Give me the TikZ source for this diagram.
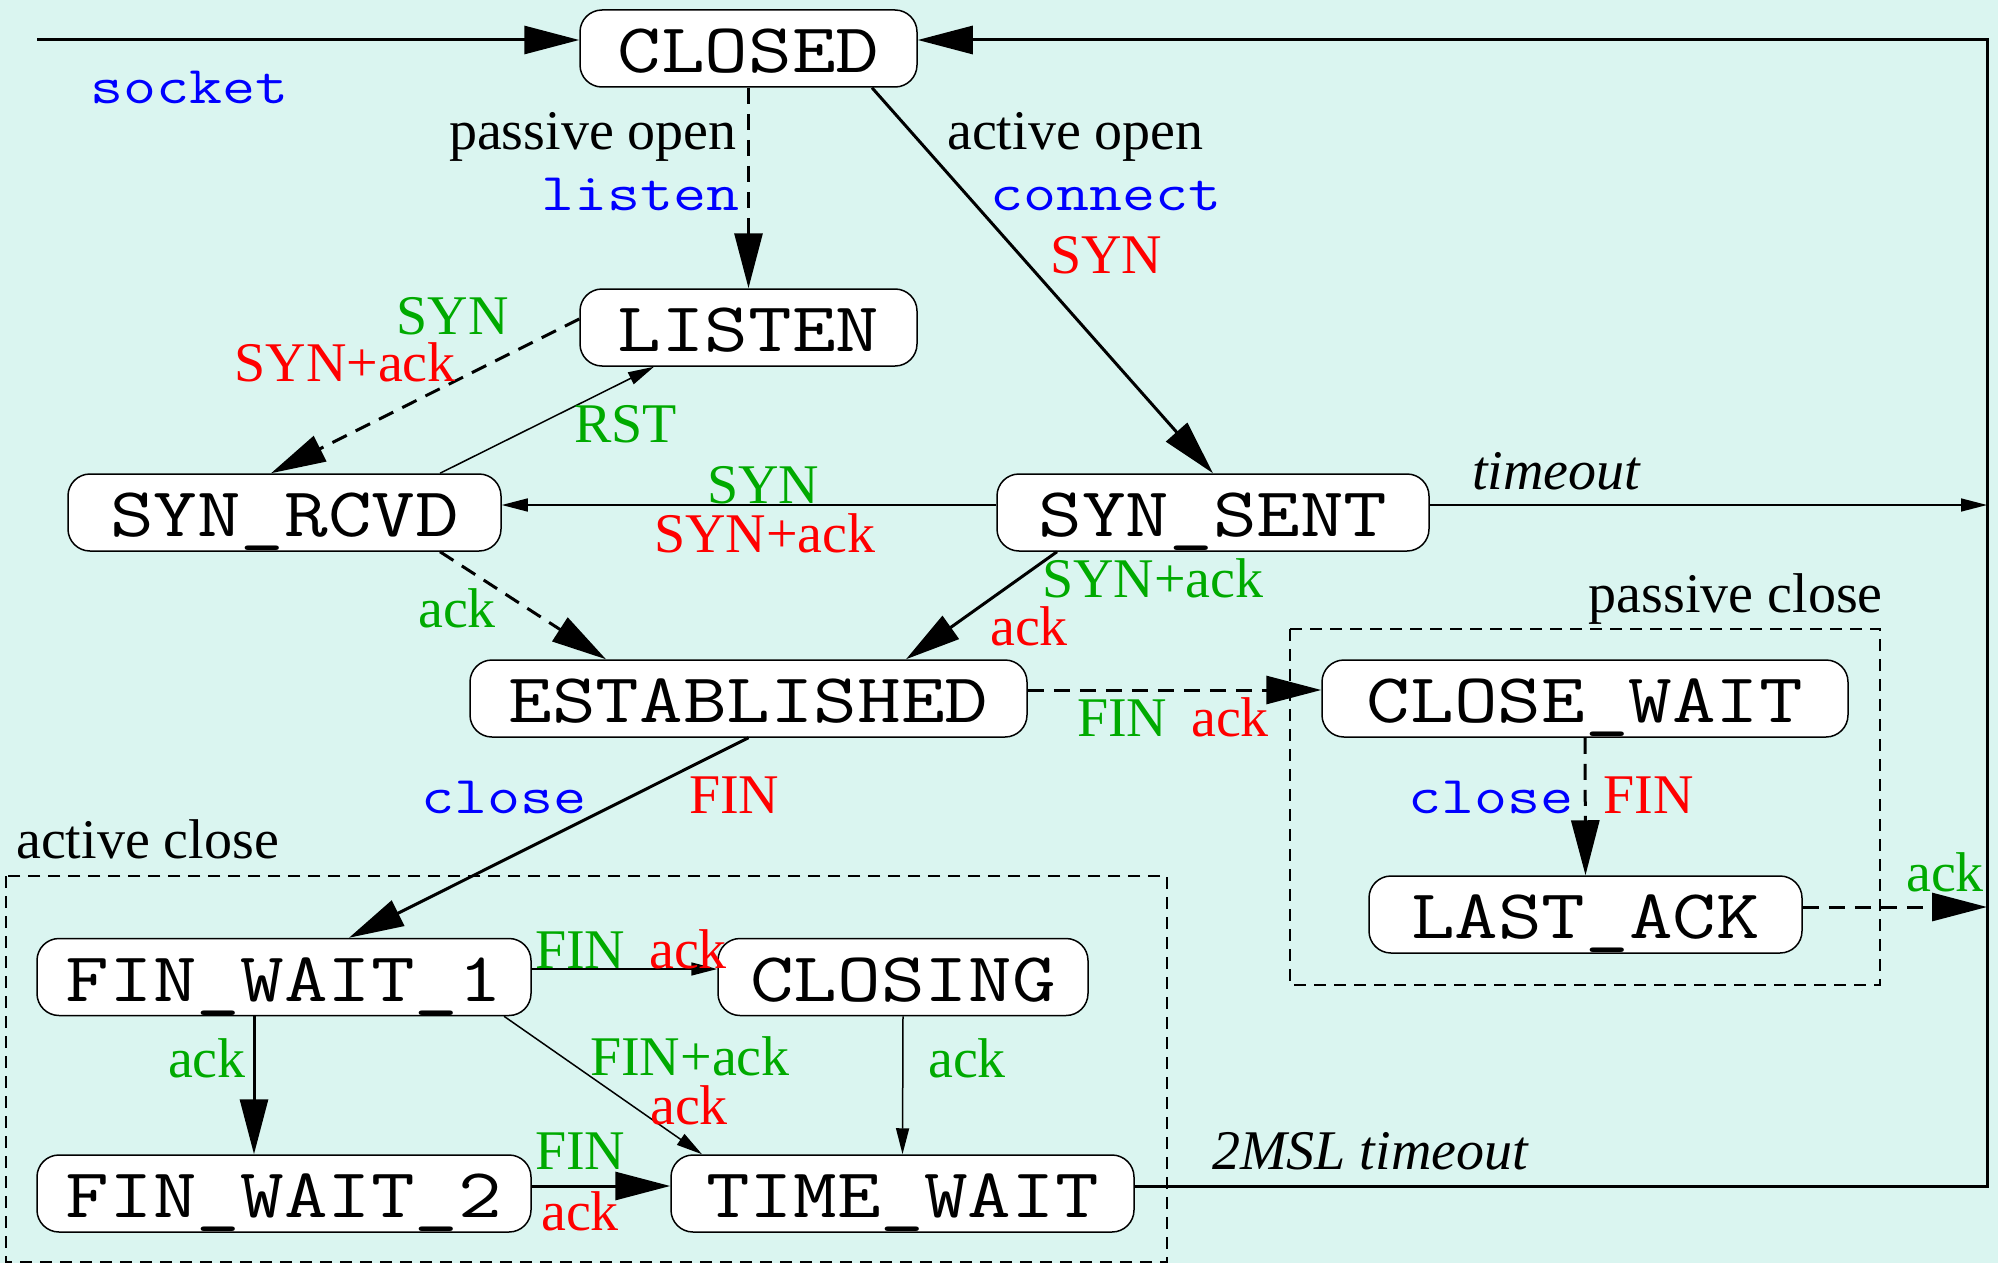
\documentclass[tikz,border=0pt]{standalone}
\usepackage{fontspec}
\setmainfont{Liberation Serif}
\newfontfamily\courierish[FakeStretch=1.21]{Latin Modern Mono}
\usetikzlibrary{arrows.meta}
\definecolor{bgmint}{RGB}{218,245,240}
\definecolor{lblgreen}{RGB}{0,170,0}
\newcommand{\statefont}{\fontsize{70}{76}\selectfont\courierish}
\newcommand{\lblfont}{\fontsize{56}{60}\selectfont}
\newcommand{\callfont}{\fontsize{53}{58}\selectfont\courierish}

\begin{document}
\begin{tikzpicture}[x=1pt,y=-1pt]
\tikzstyle{st}=[draw,fill=white,rounded corners=22pt,line width=1.5pt,minimum height=77pt,inner sep=0pt,text height=48pt,text depth=0pt,font=\statefont]
\tikzstyle{lw}=[font=\lblfont,inner sep=0pt,anchor=base west]
\tikzstyle{le}=[font=\lblfont,inner sep=0pt,anchor=base east]
\tikzstyle{big}=[line width=3pt,-{Triangle[length=55pt,width=28pt]}]
\tikzstyle{small}=[line width=1.5pt,-{Triangle[length=26pt,width=13pt]}]
\tikzstyle{dsh}=[dash pattern=on 16pt off 10pt]
\tikzstyle{grp}=[line width=1.2pt,dash pattern=on 12pt off 8pt]
% background and page size
\fill[bgmint] (0,0) rectangle (1998,1263);
\useasboundingbox (0,0) rectangle (1998,1263);
% dashed groups
\draw[grp] (6,876) rectangle (1167,1262);
\draw[grp] (1290,629) rectangle (1880,985);
\node[lw] (tact) at (16,858) {active close};
\node[le] (tpas) at (1883,612) {passive close};
% states
\node[st,minimum width=337pt] (CLOSED) at (748.5,48.5) {CLOSED};
\node[st,minimum width=337pt] (LISTEN) at (748.5,327.5) {LISTEN};
\node[st,minimum width=433pt] (SYNRCVD) at (284.5,512.5) {SYN\_RCVD};
\node[st,minimum width=432pt] (SYNSENT) at (1213,512.5) {SYN\_SENT};
\node[st,minimum width=557pt] (ESTAB) at (748.5,698.5) {ESTABLISHED};
\node[st,minimum width=526pt] (CLOSEWAIT) at (1585,698.5) {CLOSE\_WAIT};
\node[st,minimum width=433pt] (LASTACK) at (1585.5,914.5) {LAST\_ACK};
\node[st,minimum width=494pt] (FINWAIT1) at (284,977) {FIN\_WAIT\_1};
\node[st,minimum width=370pt] (CLOSING) at (903,977) {CLOSING};
\node[st,minimum width=494pt] (FINWAIT2) at (284,1193.5) {FIN\_WAIT\_2};
\node[st,minimum width=463pt] (TIMEWAIT) at (902.5,1193.5) {TIME\_WAIT};
% frame on the right
\coordinate (in) at (37,40);
\coordinate (rt) at (1987,40);
\coordinate (rb) at (1987,1186);
\draw[big] (in) -- (in -| CLOSED.west);
\draw[big] (rb -| TIMEWAIT.east) -- (rb) -- (rt) -- (rt -| CLOSED.east);
\node[lw,blue,font=\callfont] (lsock) at (90,103) {socket};
\node[lw,font=\lblfont\itshape] (l2msl) at (1212,1169) {2MSL timeout};
% opening
\draw[big,dsh] (CLOSED.south) -- (LISTEN.north);
\node[le] (lpo) at (737,149) {passive open};
\node[le,blue,font=\callfont] (llis) at (740,210) {listen};
\draw[big] ([xshift=123.5pt]CLOSED.south) -- (SYNSENT.north);
\node[lw] (lao) at (947,149) {active open};
\node[lw,blue,font=\callfont] (lcon) at (990,210) {connect};
\node[lw,red] (lsyn1) at (1050,273) {SYN};
\draw[big,dsh] ([yshift=8.5pt]LISTEN.west) -- ([xshift=-13.5pt]SYNRCVD.north);
\node[le,lblgreen] (lsyn2) at (509,334) {SYN};
\node[le,red] (lsa2) at (456,381) {SYN+ack};
\draw[small] ([xshift=155.5pt]SYNRCVD.north) -- ([xshift=-94.5pt]LISTEN.south);
\node[lw,lblgreen] (lrst) at (574,442) {RST};
\draw[small] ([yshift=7.5pt]SYNSENT.west) -- ([yshift=7.5pt]SYNRCVD.east);
\node[lw,lblgreen] (lsyn3) at (707,503) {SYN};
\node[lw,red] (lsa3) at (654,552) {SYN+ack};
\coordinate (tmo) at ([yshift=7.5pt]SYNSENT.east);
\draw[small] (tmo) -- (tmo -| rt);
\node[lw,font=\lblfont\itshape] (ltmo) at (1472,489) {timeout};
\draw[big,dsh] ([xshift=155.5pt]SYNRCVD.south) -- ([xshift=-142.5pt]ESTAB.north);
\node[lw,lblgreen] (lack1) at (418,627) {ack};
\draw[big] ([xshift=-156pt]SYNSENT.south) -- ([xshift=157.5pt]ESTAB.north);
\node[lw,lblgreen] (lsa4) at (1042,597) {SYN+ack};
\node[lw,red] (lack2) at (990,645) {ack};
% passive close
\draw[big,dsh] ([yshift=8.5pt]ESTAB.east) -- ([yshift=8.5pt]CLOSEWAIT.west);
\node[lw,lblgreen] (lfin1) at (1077,736) {FIN};
\node[lw,red] (lack3) at (1191,736) {ack};
\draw[big,dsh] (CLOSEWAIT.south) -- (LASTACK.north);
\node[le,blue,font=\callfont] (lclo1) at (1574,813) {close};
\node[lw,red] (lfin2) at (1603,813) {FIN};
\coordinate (la) at ([yshift=7.5pt]LASTACK.east);
\draw[big,dsh] (la) -- (la -| rt);
\node[lw,lblgreen] (lack4) at (1906,891) {ack};
% active close
\draw[big] (ESTAB.south) -- ([xshift=65pt]FINWAIT1.north);
\node[lw,blue,font=\callfont] (lclo2) at (421,813) {close};
\node[lw,red] (lfin3) at (689,813) {FIN};
\coordinate (fw) at ([yshift=8pt]FINWAIT1.east);
\draw[small] (fw) -- (fw -| CLOSING.west);
\node[lw,lblgreen] (lfin4) at (535,968) {FIN};
\node[lw,red] (lack5) at (649,968) {ack};
\draw[big] ([xshift=-30pt]FINWAIT1.south) -- ([xshift=-30pt]FINWAIT2.north);
\node[le,lblgreen] (lack6) at (246,1077) {ack};
\draw[small] ([xshift=220pt]FINWAIT1.south) -- ([xshift=-200.5pt]TIMEWAIT.north);
\node[lw,lblgreen] (lfa) at (590,1075) {FIN+ack};
\node[lw,red] (lack7) at (650,1124) {ack};
\draw[small] (CLOSING.south) -- (TIMEWAIT.north);
\node[lw,lblgreen] (lack8) at (928,1077) {ack};
\coordinate (f2) at ([yshift=7.5pt]FINWAIT2.east);
\draw[big] (f2) -- (f2 -| TIMEWAIT.west);
\node[lw,lblgreen] (lfin5) at (535,1169) {FIN};
\node[lw,red] (lack9) at (541,1230) {ack};
\end{tikzpicture}
\end{document}
